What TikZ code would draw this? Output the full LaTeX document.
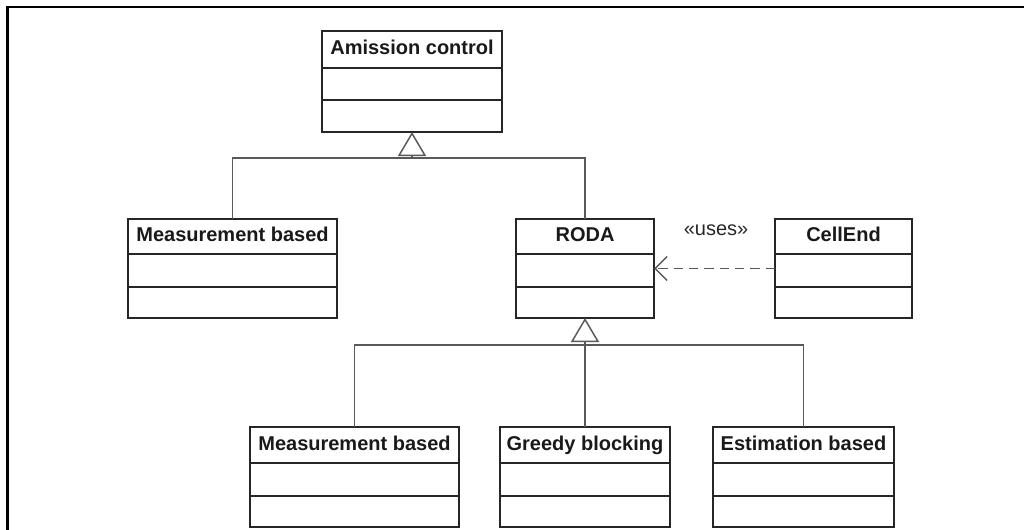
\documentclass[tikz,border=0pt]{standalone}
\usepackage{fontspec}
\setmainfont{Liberation Sans}
\usetikzlibrary{arrows.meta}
\usetikzlibrary{calc}
\colorlet{boxcol}{black!85}
\colorlet{linkcol}{black!65}
\tikzstyle{classbox}=[draw=boxcol,line width=1.4pt,inner sep=0pt,outer sep=0pt]
\tikzstyle{compart}=[draw=boxcol,line width=1.4pt]
\tikzstyle{classname}=[font=\fontsize{15}{18}\selectfont\bfseries,text=black!90,text height=11pt,text depth=3pt,inner sep=0pt]
\tikzstyle{stereo}=[font=\fontsize{15}{18}\selectfont,text=black!85,text height=11pt,text depth=3pt,inner sep=0pt]
\tikzstyle{link}=[draw=linkcol,line width=1.1pt]
\tikzstyle{inherit}=[link,-{Triangle[length=18pt,width=21pt,fill=white]}]
\tikzstyle{depend}=[link,dash pattern=on 7pt off 4.5pt,-{Straight Barb[length=9pt,width=18pt]}]

\begin{document}
\begin{tikzpicture}[x=0.75pt,y=-0.75pt]
  \useasboundingbox (0,0) rectangle (1024,529);
  % page frame, only top and left edge are visible
  \draw[line width=1.9pt] (7.5,540) -- (7.5,7) -- (1040,7);

  % classes: name/left/top/right/bottom/header line/middle line/title
  \foreach \name/\xa/\ya/\xb/\yb/\hd/\md/\txt in {
      admission/322/31/502/132/68/100/Amission control,
      measure/128/219/337/318/254/287/Measurement based,
      roda/516/219/654/318/254/287/RODA,
      cellend/775/219/912/318/254/287/CellEnd,
      measurebot/250/427/459/527/463/496/Measurement based,
      greedy/500/427/670/527/463/496/Greedy blocking,
      estimation/713/427/894/527/463/496/Estimation based} {
    \node[classbox,minimum width={(\xb-\xa)*0.75pt},minimum height={(\yb-\ya)*0.75pt}]
      (\name) at ({(\xa+\xb)/2},{(\ya+\yb)/2}) {};
    \draw[compart] (\xa,\hd) -- (\xb,\hd) (\xa,\md) -- (\xb,\md);
    \node[classname] (\name-title) at ({(\xa+\xb)/2},{(\ya+\hd)/2}) {\txt};
  }

  % generalization to Amission control
  \coordinate (acbase) at ($(admission.south)+(0,26)$);
  \draw[link] (measure.north) |- (acbase) -| (roda.north);
  \draw[inherit] (acbase) -- (admission.south);

  % generalization to RODA
  \coordinate (rodabase) at ($(roda.south)+(0,27)$);
  \draw[link] (measurebot.north) |- (rodabase) -| (estimation.north);
  \draw[link] (greedy.north) -- (rodabase);
  \draw[inherit] (rodabase) -- (roda.south);

  % dependency
  \draw[depend] (cellend.west) -- (roda.east);
  \node[stereo] (uses) at (716,230) {«uses»};
\end{tikzpicture}
\end{document}
